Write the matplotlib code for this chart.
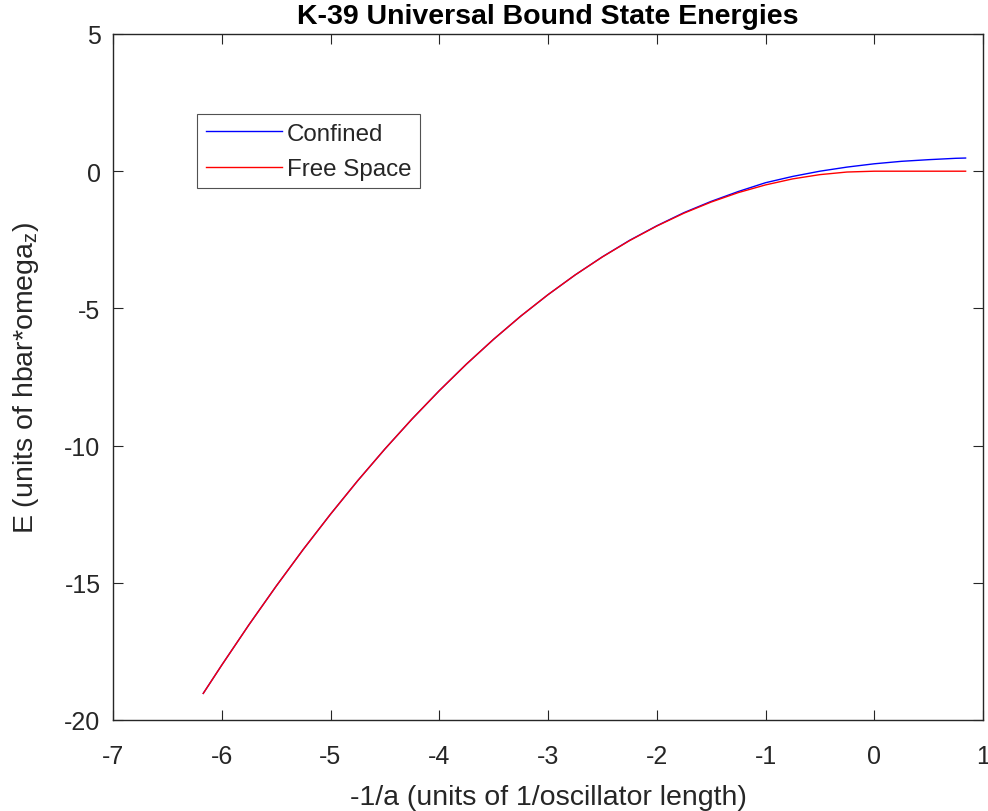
import numpy as np
import matplotlib
matplotlib.use("Agg")
from matplotlib import pyplot as plt

plt.rcParams['font.family'] = ['Liberation Sans', 'DejaVu Sans']
plt.rcParams['mathtext.fontset'] = 'custom'
plt.rcParams['mathtext.rm'] = 'Liberation Sans'
plt.rcParams['axes.unicode_minus'] = False

# -1/a values (units of 1/oscillator length)
inv_a = [-6.17, -6.0, -5.75, -5.5, -5.25, -5.0, -4.75, -4.5, -4.25, -4.0,
         -3.75, -3.5, -3.25, -3.0, -2.75, -2.5, -2.25, -2.0, -1.75, -1.5,
         -1.25, -1.0, -0.75, -0.5, -0.25, 0.0, 0.25, 0.5, 0.75, 0.84]

# bound state energies (units of hbar*omega_z)
free_space = [-19.03, -18.0, -16.53, -15.125, -13.78, -12.5, -11.28, -10.125, -9.03, -8.0,
              -7.03, -6.125, -5.28, -4.5, -3.78, -3.125, -2.53, -2.0, -1.53, -1.125,
              -0.78, -0.5, -0.28, -0.125, -0.03, 0.0, 0.0, 0.0, 0.0, 0.0]
confined = [-19.03, -18.0, -16.53, -15.125, -13.78, -12.5, -11.28, -10.125, -9.03, -8.0,
            -7.03, -6.125, -5.28, -4.5, -3.78, -3.12, -2.52, -1.99, -1.51, -1.10,
            -0.74, -0.42, -0.19, 0.0, 0.15, 0.27, 0.36, 0.42, 0.47, 0.48]

fig = plt.figure(figsize=(9.88, 8.12), dpi=100)
ax = fig.add_axes([113/988, 1-721/812, 870/988, 686/812])

ax.plot(inv_a, confined, color=(0, 0, 1), lw=1.0, label="Confined")
ax.plot(inv_a, free_space, color=(1, 0, 0), lw=1.0, label="Free Space")

ax.set_xlim(-7, 1)
ax.set_ylim(-20, 5)
ax.set_xticks(np.arange(-7, 2, 1))
ax.set_yticks(np.arange(-20, 10, 5))

dark = (0.15, 0.15, 0.15)
for s in ax.spines.values():
    s.set_color(dark)
    s.set_linewidth(1.0)
ax.tick_params(direction='in', top=True, right=True, length=7, width=0.8,
               colors=dark, labelsize=18)
ax.tick_params(axis='x', pad=17)
ax.tick_params(axis='y', pad=9)

ax.set_title("K-39 Universal Bound State Energies", fontsize=20.5,
             fontweight='bold', pad=8)
ax.set_xlabel("-1/a (units of 1/oscillator length)", fontsize=20.5, color=dark, labelpad=12)
ax.set_ylabel(r"E (units of hbar*omega$_\mathregular{z}$)", fontsize=20.5, color=dark, labelpad=17)

leg = ax.legend(loc='upper left', bbox_to_anchor=(0.097, 0.883), fontsize=17.4,
                frameon=True, fancybox=False, handlelength=3.15, borderpad=0.35,
                labelspacing=0.55, handletextpad=0.2, borderaxespad=0)
leg.get_frame().set_edgecolor(dark)
leg.get_frame().set_linewidth(0.8)
for t in leg.get_texts():
    t.set_color(dark)

fig.savefig("out.png", dpi=100)
